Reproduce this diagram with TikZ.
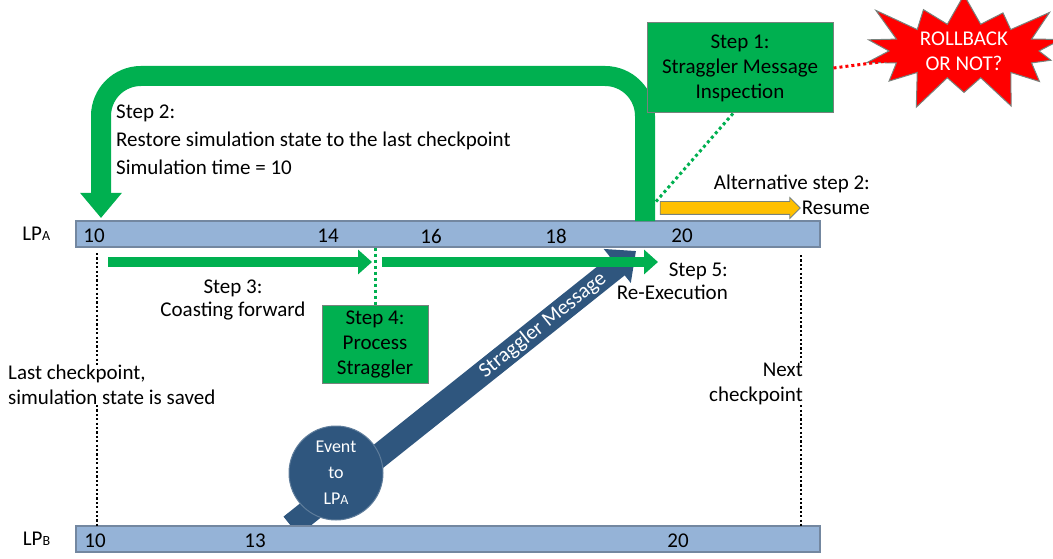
\documentclass[tikz,border=0pt]{standalone}
\usepackage{fontspec}
\setmainfont{Carlito}
\usetikzlibrary{arrows.meta,positioning,shapes.symbols,shapes.arrows}
\definecolor{stepgreen}{RGB}{0,176,80}
\definecolor{barblue}{RGB}{149,179,215}
\definecolor{barline}{RGB}{115,135,160}
\definecolor{boxline}{RGB}{120,130,125}
\definecolor{msgblue}{RGB}{47,86,126}
\definecolor{circline}{RGB}{95,125,155}
\definecolor{resumeyellow}{RGB}{255,192,0}
\definecolor{burstred}{RGB}{255,0,0}
\newcommand{\LPsub}[1]{LP{\fontsize{14}{14}\selectfont #1}}

\begin{document}
\begin{tikzpicture}[x=1pt, y=-1pt,
 every node/.style={font=\fontsize{21}{25}\selectfont, inner sep=0pt, align=center},
 bar/.style={draw=barline, fill=barblue, line width=1.2pt, minimum width=744pt, minimum height=26pt},
 stepbox/.style={draw=boxline, fill=stepgreen, line width=1pt},
 flow/.style={draw=stepgreen, line width=10pt, -{Triangle[width=24pt,length=14pt]}},
 hint/.style={line width=3pt, dash pattern=on 3pt off 3pt},
 chk/.style={line width=2.2pt, dash pattern=on 2.2pt off 2.2pt}]
\useasboundingbox (0,0) rectangle (1053,559);

\coordinate (sendB) at (291,526);
\coordinate (recvA) at (636,251);
\coordinate (detect) at (645,221);
\coordinate (restore) at (101,218);
\coordinate (rollpt) at (653,205);
\coordinate (chkA) at (97,253);
\coordinate (chkB) at (97,526);
\coordinate (nextA) at (801,255);
\coordinate (nextB) at (801,526);

% straggler message from LP_B
\draw[msgblue, line width=24pt, -{Triangle[width=42pt,length=24pt]}] (sendB) -- node[sloped, pos=0.73, text=white] {Straggler Message} (recvA);
\node[circle, fill=msgblue, draw=circline, line width=1pt, minimum size=94pt, text=white,
 font=\fontsize{18}{26}\selectfont] (event) at (336,473) {Event\\to\\\LPsub{A}};

% timelines
\node[bar] (lpa) at (448,234) {};
\node[bar] (lpb) at (448,539) {};
\node[left=25pt of lpa] (nameA) {\LPsub{A}};
\node[left=25pt of lpb] (nameB) {\LPsub{B}};
\node (a10) at (94,236) {10};
\node (a14) at (328,236) {14};
\node (a16) at (431,236) {16};
\node (a18) at (556,236) {18};
\node (a20) at (682,236) {20};
\node (b10) at (95,541) {10};
\node (b13) at (255,541) {13};
\node (b20) at (678,541) {20};

% steps
\draw[stepgreen, line width=20pt, rounded corners=40pt, -{Triangle[width=40pt,length=25pt]}] (detect) -- ++(0,-145) -| (restore);
\node[anchor=west, align=left, font=\fontsize{21}{28}\selectfont] (restoretxt) at (116,140) {Step 2:\\Restore simulation state to the last checkpoint\\Simulation time = 10};
\coordinate (coastS) at (108,262);
\coordinate (coastE) at (372,262);
\coordinate (reexS) at (382,262);
\coordinate (reexE) at (658,262);
\draw[flow] (coastS) -- (coastE);
\draw[flow] (reexS) -- (reexE);
\node[font=\fontsize{21}{23}\selectfont] (coasttxt) at (233,300) {Step 3:\\Coasting forward};
\node[anchor=east, align=right, font=\fontsize{21}{23}\selectfont] (reextxt) at (728,281) {Step 5:\\Re-Execution};
\node[single arrow, fill=resumeyellow, draw=boxline, line width=0.8pt, inner ysep=6pt, minimum width=20pt,
 minimum height=140pt, single arrow head extend=4pt] (resume) at (727,208) {};
\node[anchor=east, align=right] (alttxt) at (870,195) {Alternative step 2:\\Resume};

\node[stepbox, minimum width=186pt, minimum height=90pt] (inspect) at (740,68) {Step 1:\\Straggler Message\\Inspection};
\node[stepbox, minimum width=106pt, minimum height=78pt] (process) at (375,344) {Step 4:\\Process\\Straggler};
\node[starburst, fill=burstred, draw=boxline, line width=1pt, minimum width=230pt, minimum height=120pt,
 starburst points=14, starburst point height=40pt, text=white] (burst) at (964,51) {ROLLBACK\\OR NOT?};

\draw[hint, burstred, shorten >=74pt] (inspect.east) -- (burst.center);
\draw[hint, stepgreen] ([xshift=-7pt]inspect.south) -- (rollpt);
\draw[hint, stepgreen] (process.north |- lpa.south) -- (process.north);

% checkpoints
\node[anchor=west, align=left] (lastcp) at (8,385) {Last checkpoint,\\simulation state is saved};
\node[anchor=east, align=right] (nextcp) at (803,384) {Next\\checkpoint};
\draw[chk] (chkA) -- (chkA |- lastcp.north);
\draw[chk] (chkA |- lastcp.south) -- (chkB);
\draw[chk] (nextA) -- (nextA |- nextcp.north);
\draw[chk] (nextA |- nextcp.south) -- (nextB);
\end{tikzpicture}
\end{document}
